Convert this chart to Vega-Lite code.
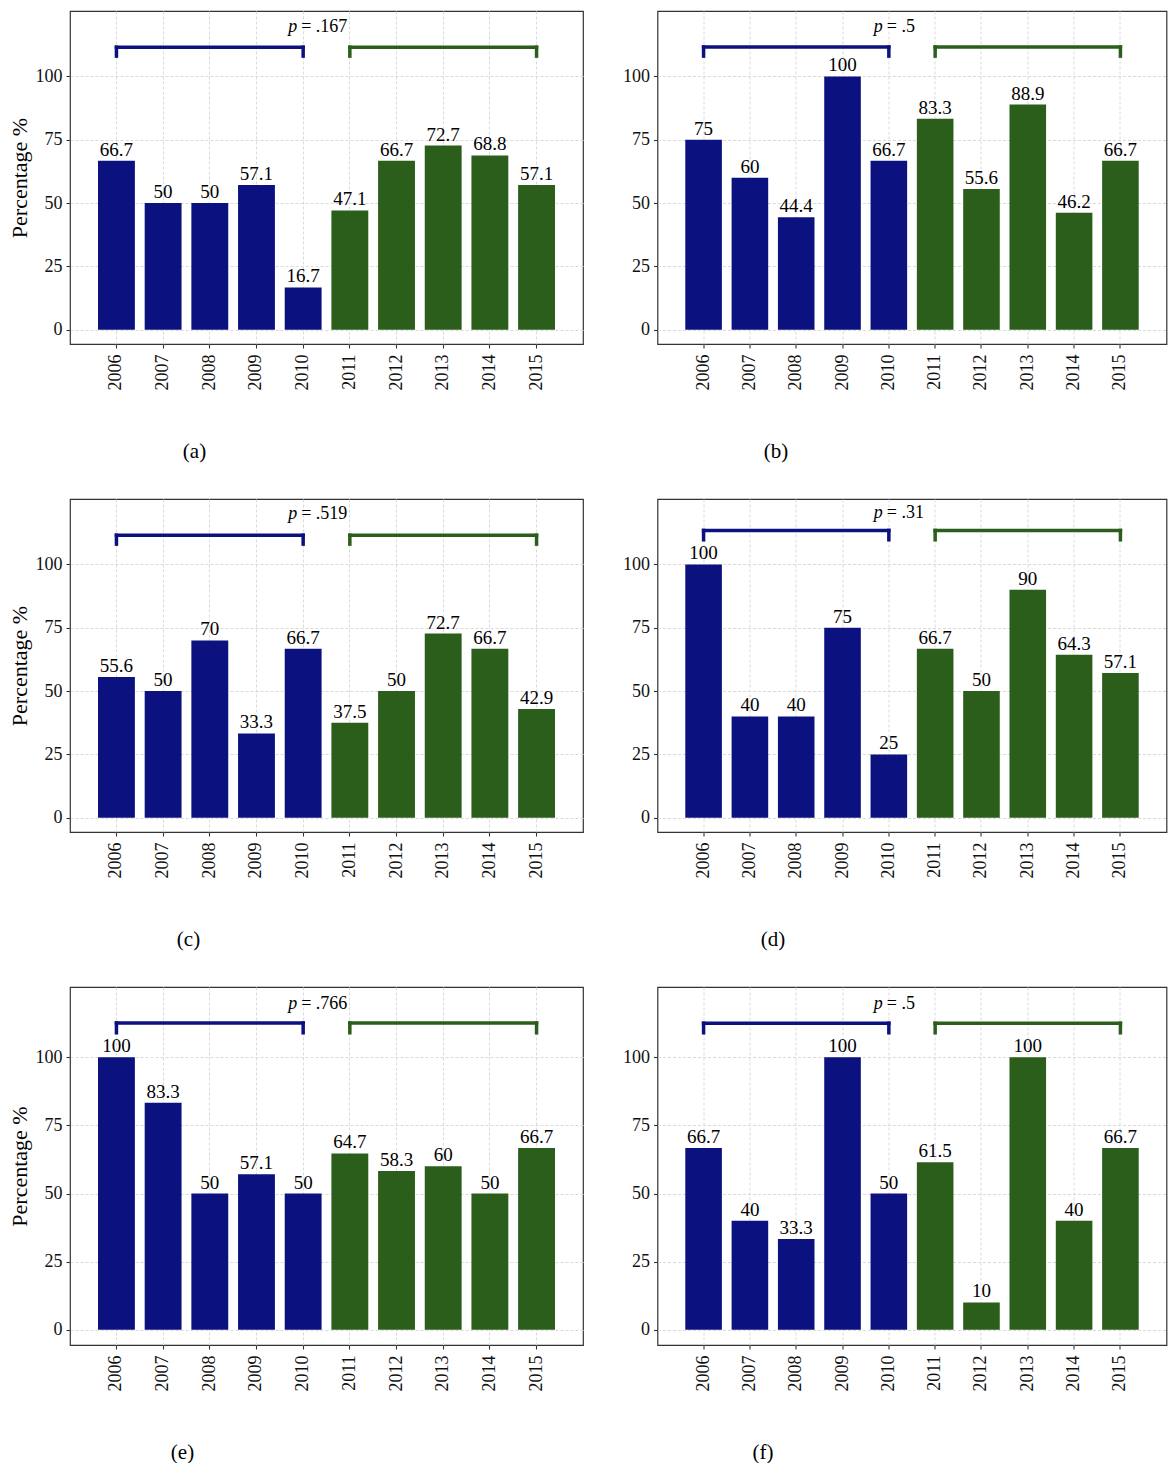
{
  "$schema": "https://vega.github.io/schema/vega-lite/v6.json",
  "background": "white",
  "padding": {"left": 7, "top": 10, "right": 0, "bottom": 0},
  "datasets": {
    "bars": [
      {"panel": "a", "year": "2006", "period": "2006-2010", "pct": 66.7},
      {"panel": "a", "year": "2007", "period": "2006-2010", "pct": 50},
      {"panel": "a", "year": "2008", "period": "2006-2010", "pct": 50},
      {"panel": "a", "year": "2009", "period": "2006-2010", "pct": 57.1},
      {"panel": "a", "year": "2010", "period": "2006-2010", "pct": 16.7},
      {"panel": "a", "year": "2011", "period": "2011-2015", "pct": 47.1},
      {"panel": "a", "year": "2012", "period": "2011-2015", "pct": 66.7},
      {"panel": "a", "year": "2013", "period": "2011-2015", "pct": 72.7},
      {"panel": "a", "year": "2014", "period": "2011-2015", "pct": 68.8},
      {"panel": "a", "year": "2015", "period": "2011-2015", "pct": 57.1},
      {"panel": "b", "year": "2006", "period": "2006-2010", "pct": 75},
      {"panel": "b", "year": "2007", "period": "2006-2010", "pct": 60},
      {"panel": "b", "year": "2008", "period": "2006-2010", "pct": 44.4},
      {"panel": "b", "year": "2009", "period": "2006-2010", "pct": 100},
      {"panel": "b", "year": "2010", "period": "2006-2010", "pct": 66.7},
      {"panel": "b", "year": "2011", "period": "2011-2015", "pct": 83.3},
      {"panel": "b", "year": "2012", "period": "2011-2015", "pct": 55.6},
      {"panel": "b", "year": "2013", "period": "2011-2015", "pct": 88.9},
      {"panel": "b", "year": "2014", "period": "2011-2015", "pct": 46.2},
      {"panel": "b", "year": "2015", "period": "2011-2015", "pct": 66.7},
      {"panel": "c", "year": "2006", "period": "2006-2010", "pct": 55.6},
      {"panel": "c", "year": "2007", "period": "2006-2010", "pct": 50},
      {"panel": "c", "year": "2008", "period": "2006-2010", "pct": 70},
      {"panel": "c", "year": "2009", "period": "2006-2010", "pct": 33.3},
      {"panel": "c", "year": "2010", "period": "2006-2010", "pct": 66.7},
      {"panel": "c", "year": "2011", "period": "2011-2015", "pct": 37.5},
      {"panel": "c", "year": "2012", "period": "2011-2015", "pct": 50},
      {"panel": "c", "year": "2013", "period": "2011-2015", "pct": 72.7},
      {"panel": "c", "year": "2014", "period": "2011-2015", "pct": 66.7},
      {"panel": "c", "year": "2015", "period": "2011-2015", "pct": 42.9},
      {"panel": "d", "year": "2006", "period": "2006-2010", "pct": 100},
      {"panel": "d", "year": "2007", "period": "2006-2010", "pct": 40},
      {"panel": "d", "year": "2008", "period": "2006-2010", "pct": 40},
      {"panel": "d", "year": "2009", "period": "2006-2010", "pct": 75},
      {"panel": "d", "year": "2010", "period": "2006-2010", "pct": 25},
      {"panel": "d", "year": "2011", "period": "2011-2015", "pct": 66.7},
      {"panel": "d", "year": "2012", "period": "2011-2015", "pct": 50},
      {"panel": "d", "year": "2013", "period": "2011-2015", "pct": 90},
      {"panel": "d", "year": "2014", "period": "2011-2015", "pct": 64.3},
      {"panel": "d", "year": "2015", "period": "2011-2015", "pct": 57.1},
      {"panel": "e", "year": "2006", "period": "2006-2010", "pct": 100},
      {"panel": "e", "year": "2007", "period": "2006-2010", "pct": 83.3},
      {"panel": "e", "year": "2008", "period": "2006-2010", "pct": 50},
      {"panel": "e", "year": "2009", "period": "2006-2010", "pct": 57.1},
      {"panel": "e", "year": "2010", "period": "2006-2010", "pct": 50},
      {"panel": "e", "year": "2011", "period": "2011-2015", "pct": 64.7},
      {"panel": "e", "year": "2012", "period": "2011-2015", "pct": 58.3},
      {"panel": "e", "year": "2013", "period": "2011-2015", "pct": 60},
      {"panel": "e", "year": "2014", "period": "2011-2015", "pct": 50},
      {"panel": "e", "year": "2015", "period": "2011-2015", "pct": 66.7},
      {"panel": "f", "year": "2006", "period": "2006-2010", "pct": 66.7},
      {"panel": "f", "year": "2007", "period": "2006-2010", "pct": 40},
      {"panel": "f", "year": "2008", "period": "2006-2010", "pct": 33.3},
      {"panel": "f", "year": "2009", "period": "2006-2010", "pct": 100},
      {"panel": "f", "year": "2010", "period": "2006-2010", "pct": 50},
      {"panel": "f", "year": "2011", "period": "2011-2015", "pct": 61.5},
      {"panel": "f", "year": "2012", "period": "2011-2015", "pct": 10},
      {"panel": "f", "year": "2013", "period": "2011-2015", "pct": 100},
      {"panel": "f", "year": "2014", "period": "2011-2015", "pct": 40},
      {"panel": "f", "year": "2015", "period": "2011-2015", "pct": 66.7}
    ],
    "brackets": [
      {"panel": "a", "period": "2006-2010", "year": "2006", "year2": "2010", "pct": 111.5, "pct2": 111.5},
      {"panel": "a", "period": "2006-2010", "year": "2006", "year2": "2006", "pct": 111.5, "pct2": 108},
      {"panel": "a", "period": "2006-2010", "year": "2010", "year2": "2010", "pct": 111.5, "pct2": 108},
      {"panel": "a", "period": "2011-2015", "year": "2011", "year2": "2015", "pct": 111.5, "pct2": 111.5},
      {"panel": "a", "period": "2011-2015", "year": "2011", "year2": "2011", "pct": 111.5, "pct2": 108},
      {"panel": "a", "period": "2011-2015", "year": "2015", "year2": "2015", "pct": 111.5, "pct2": 108},
      {"panel": "b", "period": "2006-2010", "year": "2006", "year2": "2010", "pct": 111.6, "pct2": 111.6},
      {"panel": "b", "period": "2006-2010", "year": "2006", "year2": "2006", "pct": 111.6, "pct2": 108},
      {"panel": "b", "period": "2006-2010", "year": "2010", "year2": "2010", "pct": 111.6, "pct2": 108},
      {"panel": "b", "period": "2011-2015", "year": "2011", "year2": "2015", "pct": 111.6, "pct2": 111.6},
      {"panel": "b", "period": "2011-2015", "year": "2011", "year2": "2011", "pct": 111.6, "pct2": 108},
      {"panel": "b", "period": "2011-2015", "year": "2015", "year2": "2015", "pct": 111.6, "pct2": 108},
      {"panel": "c", "period": "2006-2010", "year": "2006", "year2": "2010", "pct": 111.5, "pct2": 111.5},
      {"panel": "c", "period": "2006-2010", "year": "2006", "year2": "2006", "pct": 111.5, "pct2": 108},
      {"panel": "c", "period": "2006-2010", "year": "2010", "year2": "2010", "pct": 111.5, "pct2": 108},
      {"panel": "c", "period": "2011-2015", "year": "2011", "year2": "2015", "pct": 111.5, "pct2": 111.5},
      {"panel": "c", "period": "2011-2015", "year": "2011", "year2": "2011", "pct": 111.5, "pct2": 108},
      {"panel": "c", "period": "2011-2015", "year": "2015", "year2": "2015", "pct": 111.5, "pct2": 108},
      {"panel": "d", "period": "2006-2010", "year": "2006", "year2": "2010", "pct": 113.4, "pct2": 113.4},
      {"panel": "d", "period": "2006-2010", "year": "2006", "year2": "2006", "pct": 113.4, "pct2": 109.7},
      {"panel": "d", "period": "2006-2010", "year": "2010", "year2": "2010", "pct": 113.4, "pct2": 109.7},
      {"panel": "d", "period": "2011-2015", "year": "2011", "year2": "2015", "pct": 113.4, "pct2": 113.4},
      {"panel": "d", "period": "2011-2015", "year": "2011", "year2": "2011", "pct": 113.4, "pct2": 109.7},
      {"panel": "d", "period": "2011-2015", "year": "2015", "year2": "2015", "pct": 113.4, "pct2": 109.7},
      {"panel": "e", "period": "2006-2010", "year": "2006", "year2": "2010", "pct": 112.6, "pct2": 112.6},
      {"panel": "e", "period": "2006-2010", "year": "2006", "year2": "2006", "pct": 112.6, "pct2": 109},
      {"panel": "e", "period": "2006-2010", "year": "2010", "year2": "2010", "pct": 112.6, "pct2": 109},
      {"panel": "e", "period": "2011-2015", "year": "2011", "year2": "2015", "pct": 112.6, "pct2": 112.6},
      {"panel": "e", "period": "2011-2015", "year": "2011", "year2": "2011", "pct": 112.6, "pct2": 109},
      {"panel": "e", "period": "2011-2015", "year": "2015", "year2": "2015", "pct": 112.6, "pct2": 109},
      {"panel": "f", "period": "2006-2010", "year": "2006", "year2": "2010", "pct": 112.5, "pct2": 112.5},
      {"panel": "f", "period": "2006-2010", "year": "2006", "year2": "2006", "pct": 112.5, "pct2": 109},
      {"panel": "f", "period": "2006-2010", "year": "2010", "year2": "2010", "pct": 112.5, "pct2": 109},
      {"panel": "f", "period": "2011-2015", "year": "2011", "year2": "2015", "pct": 112.5, "pct2": 112.5},
      {"panel": "f", "period": "2011-2015", "year": "2011", "year2": "2011", "pct": 112.5, "pct2": 109},
      {"panel": "f", "period": "2011-2015", "year": "2015", "year2": "2015", "pct": 112.5, "pct2": 109}
    ],
    "pvals": [
      {"panel": "a", "year": "2010", "pct": 119.4, "p": "p", "rest": "= .167"},
      {"panel": "b", "year": "2010", "pct": 119.4, "p": "p", "rest": "= .5"},
      {"panel": "c", "year": "2010", "pct": 119.7, "p": "p", "rest": "= .519"},
      {"panel": "d", "year": "2010", "pct": 120.2, "p": "p", "rest": "= .31"},
      {"panel": "e", "year": "2010", "pct": 119.4, "p": "p", "rest": "= .766"},
      {"panel": "f", "year": "2010", "pct": 119.5, "p": "p", "rest": "= .5"}
    ]
  },
  "concat": [
    {
      "width": 513, "height": 333,
      "layer": [
        {"data": {"name": "bars"}, "transform": [{"filter": "datum.panel === 'a'"}], "mark": {"type": "bar"},
         "encoding": {
           "x": {"field": "year", "type": "ordinal", "scale": {"type": "band", "domain": ["2006","2007","2008","2009","2010","2011","2012","2013","2014","2015"], "paddingInner": 0.21, "paddingOuter": 0.6},
                 "axis": {"title": "(a)", "labelAngle": 270, "labelPadding": 6, "grid": true, "titleX": 124, "titleY": 107, "titleBaseline": "middle", "titleAlign": "center", "titleFontSize": 21}},
           "y": {"field": "pct", "type": "quantitative", "stack": null, "scale": {"domain": [-5.6, 125.8], "nice": false, "zero": false},
                 "axis": {"title": "Percentage %", "values": [0,12.5,25,37.5,50,62.5,75,87.5,100,112.5], "labelExpr": "datum.value % 25 === 0 ? datum.label : ''", "tickOpacity": {"condition": {"test": "datum.value % 25 === 0", "value": 1}, "value": 0}, "labelPadding": 4, "titlePadding": 4, "titleFontSize": 22, "grid": true}},
           "color": {"field": "period", "type": "nominal", "scale": {"domain": ["2006-2010","2011-2015"], "range": ["#0B127F","#2B5E1B"]}, "legend": null}
         }},
        {"data": {"name": "bars"}, "transform": [{"filter": "datum.panel === 'a'"}], "mark": {"type": "text", "baseline": "alphabetic", "dy": -5, "fontSize": 19, "color": "black"},
         "encoding": {"x": {"field": "year", "type": "ordinal"}, "y": {"field": "pct", "type": "quantitative"}, "text": {"field": "pct", "type": "nominal"}}},
        {"data": {"name": "brackets"}, "transform": [{"filter": "datum.panel === 'a'"}], "mark": {"type": "rule", "strokeWidth": 3.5, "strokeCap": "square"},
         "encoding": {"x": {"field": "year", "type": "ordinal"}, "x2": {"field": "year2"}, "y": {"field": "pct", "type": "quantitative"}, "y2": {"field": "pct2"},
                      "color": {"field": "period", "type": "nominal", "legend": null}}},
        {"data": {"name": "pvals"}, "transform": [{"filter": "datum.panel === 'a'"}], "mark": {"type": "text", "align": "left", "baseline": "middle", "dx": -15, "fontSize": 18, "fontStyle": "italic", "color": "black"},
         "encoding": {"x": {"field": "year", "type": "ordinal"}, "y": {"field": "pct", "type": "quantitative"}, "text": {"field": "p"}}},
        {"data": {"name": "pvals"}, "transform": [{"filter": "datum.panel === 'a'"}], "mark": {"type": "text", "align": "left", "baseline": "middle", "dx": -2, "fontSize": 18, "color": "black"},
         "encoding": {"x": {"field": "year", "type": "ordinal"}, "y": {"field": "pct", "type": "quantitative"}, "text": {"field": "rest"}}}
      ]
    },
    {
      "width": 509, "height": 333,
      "layer": [
        {"data": {"name": "bars"}, "transform": [{"filter": "datum.panel === 'b'"}], "mark": {"type": "bar"},
         "encoding": {
           "x": {"field": "year", "type": "ordinal", "scale": {"type": "band", "domain": ["2006","2007","2008","2009","2010","2011","2012","2013","2014","2015"], "paddingInner": 0.21, "paddingOuter": 0.6},
                 "axis": {"title": "(b)", "labelAngle": 270, "labelPadding": 6, "grid": true, "titleX": 118, "titleY": 107, "titleBaseline": "middle", "titleAlign": "center", "titleFontSize": 21}},
           "y": {"field": "pct", "type": "quantitative", "stack": null, "scale": {"domain": [-5.6, 125.8], "nice": false, "zero": false},
                 "axis": {"title": null, "values": [0,12.5,25,37.5,50,62.5,75,87.5,100,112.5], "labelExpr": "datum.value % 25 === 0 ? datum.label : ''", "tickOpacity": {"condition": {"test": "datum.value % 25 === 0", "value": 1}, "value": 0}, "labelPadding": 4, "grid": true}},
           "color": {"field": "period", "type": "nominal", "scale": {"domain": ["2006-2010","2011-2015"], "range": ["#0B127F","#2B5E1B"]}, "legend": null}
         }},
        {"data": {"name": "bars"}, "transform": [{"filter": "datum.panel === 'b'"}], "mark": {"type": "text", "baseline": "alphabetic", "dy": -5, "fontSize": 19, "color": "black"},
         "encoding": {"x": {"field": "year", "type": "ordinal"}, "y": {"field": "pct", "type": "quantitative"}, "text": {"field": "pct", "type": "nominal"}}},
        {"data": {"name": "brackets"}, "transform": [{"filter": "datum.panel === 'b'"}], "mark": {"type": "rule", "strokeWidth": 3.5, "strokeCap": "square"},
         "encoding": {"x": {"field": "year", "type": "ordinal"}, "x2": {"field": "year2"}, "y": {"field": "pct", "type": "quantitative"}, "y2": {"field": "pct2"},
                      "color": {"field": "period", "type": "nominal", "legend": null}}},
        {"data": {"name": "pvals"}, "transform": [{"filter": "datum.panel === 'b'"}], "mark": {"type": "text", "align": "left", "baseline": "middle", "dx": -15, "fontSize": 18, "fontStyle": "italic", "color": "black"},
         "encoding": {"x": {"field": "year", "type": "ordinal"}, "y": {"field": "pct", "type": "quantitative"}, "text": {"field": "p"}}},
        {"data": {"name": "pvals"}, "transform": [{"filter": "datum.panel === 'b'"}], "mark": {"type": "text", "align": "left", "baseline": "middle", "dx": -2, "fontSize": 18, "color": "black"},
         "encoding": {"x": {"field": "year", "type": "ordinal"}, "y": {"field": "pct", "type": "quantitative"}, "text": {"field": "rest"}}}
      ]
    },
    {
      "width": 513, "height": 333,
      "layer": [
        {"data": {"name": "bars"}, "transform": [{"filter": "datum.panel === 'c'"}], "mark": {"type": "bar"},
         "encoding": {
           "x": {"field": "year", "type": "ordinal", "scale": {"type": "band", "domain": ["2006","2007","2008","2009","2010","2011","2012","2013","2014","2015"], "paddingInner": 0.21, "paddingOuter": 0.6},
                 "axis": {"title": "(c)", "labelAngle": 270, "labelPadding": 6, "grid": true, "titleX": 118, "titleY": 107, "titleBaseline": "middle", "titleAlign": "center", "titleFontSize": 21}},
           "y": {"field": "pct", "type": "quantitative", "stack": null, "scale": {"domain": [-5.6, 125.8], "nice": false, "zero": false},
                 "axis": {"title": "Percentage %", "values": [0,12.5,25,37.5,50,62.5,75,87.5,100,112.5], "labelExpr": "datum.value % 25 === 0 ? datum.label : ''", "tickOpacity": {"condition": {"test": "datum.value % 25 === 0", "value": 1}, "value": 0}, "labelPadding": 4, "titlePadding": 4, "titleFontSize": 22, "grid": true}},
           "color": {"field": "period", "type": "nominal", "scale": {"domain": ["2006-2010","2011-2015"], "range": ["#0B127F","#2B5E1B"]}, "legend": null}
         }},
        {"data": {"name": "bars"}, "transform": [{"filter": "datum.panel === 'c'"}], "mark": {"type": "text", "baseline": "alphabetic", "dy": -5, "fontSize": 19, "color": "black"},
         "encoding": {"x": {"field": "year", "type": "ordinal"}, "y": {"field": "pct", "type": "quantitative"}, "text": {"field": "pct", "type": "nominal"}}},
        {"data": {"name": "brackets"}, "transform": [{"filter": "datum.panel === 'c'"}], "mark": {"type": "rule", "strokeWidth": 3.5, "strokeCap": "square"},
         "encoding": {"x": {"field": "year", "type": "ordinal"}, "x2": {"field": "year2"}, "y": {"field": "pct", "type": "quantitative"}, "y2": {"field": "pct2"},
                      "color": {"field": "period", "type": "nominal", "legend": null}}},
        {"data": {"name": "pvals"}, "transform": [{"filter": "datum.panel === 'c'"}], "mark": {"type": "text", "align": "left", "baseline": "middle", "dx": -15, "fontSize": 18, "fontStyle": "italic", "color": "black"},
         "encoding": {"x": {"field": "year", "type": "ordinal"}, "y": {"field": "pct", "type": "quantitative"}, "text": {"field": "p"}}},
        {"data": {"name": "pvals"}, "transform": [{"filter": "datum.panel === 'c'"}], "mark": {"type": "text", "align": "left", "baseline": "middle", "dx": -2, "fontSize": 18, "color": "black"},
         "encoding": {"x": {"field": "year", "type": "ordinal"}, "y": {"field": "pct", "type": "quantitative"}, "text": {"field": "rest"}}}
      ]
    },
    {
      "width": 509, "height": 333,
      "layer": [
        {"data": {"name": "bars"}, "transform": [{"filter": "datum.panel === 'd'"}], "mark": {"type": "bar"},
         "encoding": {
           "x": {"field": "year", "type": "ordinal", "scale": {"type": "band", "domain": ["2006","2007","2008","2009","2010","2011","2012","2013","2014","2015"], "paddingInner": 0.21, "paddingOuter": 0.6},
                 "axis": {"title": "(d)", "labelAngle": 270, "labelPadding": 6, "grid": true, "titleX": 115, "titleY": 107, "titleBaseline": "middle", "titleAlign": "center", "titleFontSize": 21}},
           "y": {"field": "pct", "type": "quantitative", "stack": null, "scale": {"domain": [-5.6, 125.8], "nice": false, "zero": false},
                 "axis": {"title": null, "values": [0,12.5,25,37.5,50,62.5,75,87.5,100,112.5], "labelExpr": "datum.value % 25 === 0 ? datum.label : ''", "tickOpacity": {"condition": {"test": "datum.value % 25 === 0", "value": 1}, "value": 0}, "labelPadding": 4, "grid": true}},
           "color": {"field": "period", "type": "nominal", "scale": {"domain": ["2006-2010","2011-2015"], "range": ["#0B127F","#2B5E1B"]}, "legend": null}
         }},
        {"data": {"name": "bars"}, "transform": [{"filter": "datum.panel === 'd'"}], "mark": {"type": "text", "baseline": "alphabetic", "dy": -5, "fontSize": 19, "color": "black"},
         "encoding": {"x": {"field": "year", "type": "ordinal"}, "y": {"field": "pct", "type": "quantitative"}, "text": {"field": "pct", "type": "nominal"}}},
        {"data": {"name": "brackets"}, "transform": [{"filter": "datum.panel === 'd'"}], "mark": {"type": "rule", "strokeWidth": 3.5, "strokeCap": "square"},
         "encoding": {"x": {"field": "year", "type": "ordinal"}, "x2": {"field": "year2"}, "y": {"field": "pct", "type": "quantitative"}, "y2": {"field": "pct2"},
                      "color": {"field": "period", "type": "nominal", "legend": null}}},
        {"data": {"name": "pvals"}, "transform": [{"filter": "datum.panel === 'd'"}], "mark": {"type": "text", "align": "left", "baseline": "middle", "dx": -15, "fontSize": 18, "fontStyle": "italic", "color": "black"},
         "encoding": {"x": {"field": "year", "type": "ordinal"}, "y": {"field": "pct", "type": "quantitative"}, "text": {"field": "p"}}},
        {"data": {"name": "pvals"}, "transform": [{"filter": "datum.panel === 'd'"}], "mark": {"type": "text", "align": "left", "baseline": "middle", "dx": -2, "fontSize": 18, "color": "black"},
         "encoding": {"x": {"field": "year", "type": "ordinal"}, "y": {"field": "pct", "type": "quantitative"}, "text": {"field": "rest"}}}
      ]
    },
    {
      "width": 513, "height": 358,
      "layer": [
        {"data": {"name": "bars"}, "transform": [{"filter": "datum.panel === 'e'"}], "mark": {"type": "bar"},
         "encoding": {
           "x": {"field": "year", "type": "ordinal", "scale": {"type": "band", "domain": ["2006","2007","2008","2009","2010","2011","2012","2013","2014","2015"], "paddingInner": 0.21, "paddingOuter": 0.6},
                 "axis": {"title": "(e)", "labelAngle": 270, "labelPadding": 6, "grid": true, "titleX": 112, "titleY": 107, "titleBaseline": "middle", "titleAlign": "center", "titleFontSize": 21}},
           "y": {"field": "pct", "type": "quantitative", "stack": null, "scale": {"domain": [-5.6, 125.8], "nice": false, "zero": false},
                 "axis": {"title": "Percentage %", "values": [0,12.5,25,37.5,50,62.5,75,87.5,100,112.5], "labelExpr": "datum.value % 25 === 0 ? datum.label : ''", "tickOpacity": {"condition": {"test": "datum.value % 25 === 0", "value": 1}, "value": 0}, "labelPadding": 4, "titlePadding": 4, "titleFontSize": 22, "grid": true}},
           "color": {"field": "period", "type": "nominal", "scale": {"domain": ["2006-2010","2011-2015"], "range": ["#0B127F","#2B5E1B"]}, "legend": null}
         }},
        {"data": {"name": "bars"}, "transform": [{"filter": "datum.panel === 'e'"}], "mark": {"type": "text", "baseline": "alphabetic", "dy": -5, "fontSize": 19, "color": "black"},
         "encoding": {"x": {"field": "year", "type": "ordinal"}, "y": {"field": "pct", "type": "quantitative"}, "text": {"field": "pct", "type": "nominal"}}},
        {"data": {"name": "brackets"}, "transform": [{"filter": "datum.panel === 'e'"}], "mark": {"type": "rule", "strokeWidth": 3.5, "strokeCap": "square"},
         "encoding": {"x": {"field": "year", "type": "ordinal"}, "x2": {"field": "year2"}, "y": {"field": "pct", "type": "quantitative"}, "y2": {"field": "pct2"},
                      "color": {"field": "period", "type": "nominal", "legend": null}}},
        {"data": {"name": "pvals"}, "transform": [{"filter": "datum.panel === 'e'"}], "mark": {"type": "text", "align": "left", "baseline": "middle", "dx": -15, "fontSize": 18, "fontStyle": "italic", "color": "black"},
         "encoding": {"x": {"field": "year", "type": "ordinal"}, "y": {"field": "pct", "type": "quantitative"}, "text": {"field": "p"}}},
        {"data": {"name": "pvals"}, "transform": [{"filter": "datum.panel === 'e'"}], "mark": {"type": "text", "align": "left", "baseline": "middle", "dx": -2, "fontSize": 18, "color": "black"},
         "encoding": {"x": {"field": "year", "type": "ordinal"}, "y": {"field": "pct", "type": "quantitative"}, "text": {"field": "rest"}}}
      ]
    },
    {
      "width": 509, "height": 358,
      "layer": [
        {"data": {"name": "bars"}, "transform": [{"filter": "datum.panel === 'f'"}], "mark": {"type": "bar"},
         "encoding": {
           "x": {"field": "year", "type": "ordinal", "scale": {"type": "band", "domain": ["2006","2007","2008","2009","2010","2011","2012","2013","2014","2015"], "paddingInner": 0.21, "paddingOuter": 0.6},
                 "axis": {"title": "(f)", "labelAngle": 270, "labelPadding": 6, "grid": true, "titleX": 105, "titleY": 107, "titleBaseline": "middle", "titleAlign": "center", "titleFontSize": 21}},
           "y": {"field": "pct", "type": "quantitative", "stack": null, "scale": {"domain": [-5.6, 125.8], "nice": false, "zero": false},
                 "axis": {"title": null, "values": [0,12.5,25,37.5,50,62.5,75,87.5,100,112.5], "labelExpr": "datum.value % 25 === 0 ? datum.label : ''", "tickOpacity": {"condition": {"test": "datum.value % 25 === 0", "value": 1}, "value": 0}, "labelPadding": 4, "grid": true}},
           "color": {"field": "period", "type": "nominal", "scale": {"domain": ["2006-2010","2011-2015"], "range": ["#0B127F","#2B5E1B"]}, "legend": null}
         }},
        {"data": {"name": "bars"}, "transform": [{"filter": "datum.panel === 'f'"}], "mark": {"type": "text", "baseline": "alphabetic", "dy": -5, "fontSize": 19, "color": "black"},
         "encoding": {"x": {"field": "year", "type": "ordinal"}, "y": {"field": "pct", "type": "quantitative"}, "text": {"field": "pct", "type": "nominal"}}},
        {"data": {"name": "brackets"}, "transform": [{"filter": "datum.panel === 'f'"}], "mark": {"type": "rule", "strokeWidth": 3.5, "strokeCap": "square"},
         "encoding": {"x": {"field": "year", "type": "ordinal"}, "x2": {"field": "year2"}, "y": {"field": "pct", "type": "quantitative"}, "y2": {"field": "pct2"},
                      "color": {"field": "period", "type": "nominal", "legend": null}}},
        {"data": {"name": "pvals"}, "transform": [{"filter": "datum.panel === 'f'"}], "mark": {"type": "text", "align": "left", "baseline": "middle", "dx": -15, "fontSize": 18, "fontStyle": "italic", "color": "black"},
         "encoding": {"x": {"field": "year", "type": "ordinal"}, "y": {"field": "pct", "type": "quantitative"}, "text": {"field": "p"}}},
        {"data": {"name": "pvals"}, "transform": [{"filter": "datum.panel === 'f'"}], "mark": {"type": "text", "align": "left", "baseline": "middle", "dx": -2, "fontSize": 18, "color": "black"},
         "encoding": {"x": {"field": "year", "type": "ordinal"}, "y": {"field": "pct", "type": "quantitative"}, "text": {"field": "rest"}}}
      ]
    }
  ],
  "columns": 2,
  "spacing": {"row": 155, "column": 74.5},
  "bounds": "flush",
  "align": "each",
  "config": {
    "font": "Liberation Serif",
    "view": {"stroke": "#333333", "strokeWidth": 1.2},
    "axis": {
      "labelFont": "Liberation Serif", "labelFontSize": 18, "labelColor": "#111111",
      "titleFont": "Liberation Serif", "titleColor": "#000000", "titleFontWeight": "normal",
      "tickColor": "#333333", "tickSize": 4, "tickWidth": 1.1,
      "domain": false,
      "gridColor": "#dadada", "gridDash": [3, 2], "gridWidth": 1
    },
    "text": {"font": "Liberation Serif"}
  }
}
